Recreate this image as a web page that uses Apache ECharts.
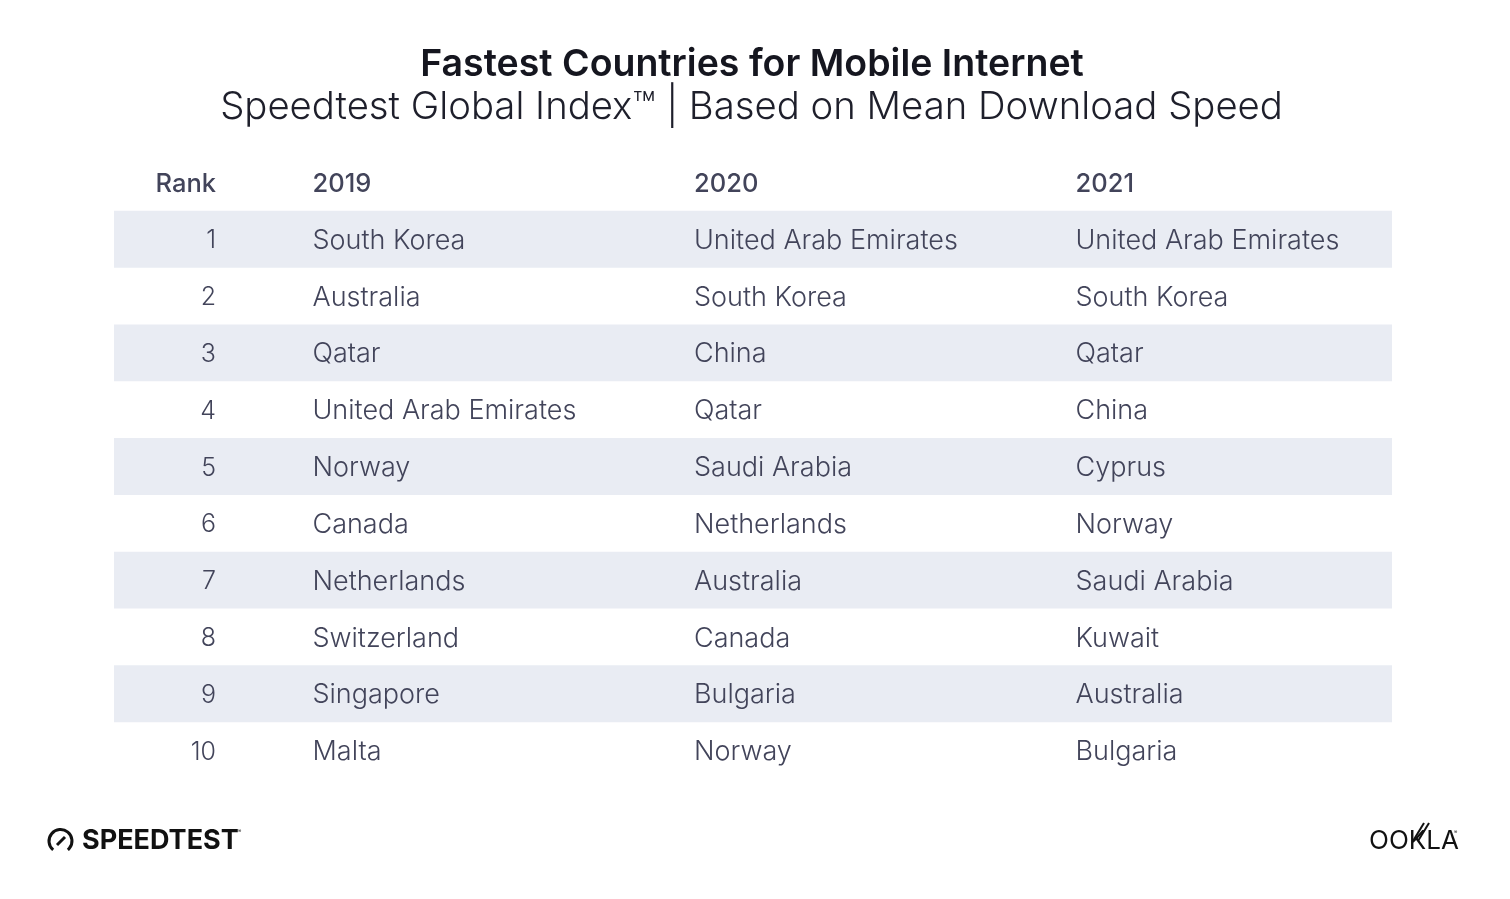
<!DOCTYPE html>
<html>
<head>
<meta charset="utf-8">
<title>Fastest Countries for Mobile Internet</title>
<style>
  html, body { margin: 0; padding: 0; background: #fff; }
  #main { width: 1510px; height: 899px; }
</style>
<script src="https://cdn.jsdelivr.net/npm/echarts@6/dist/echarts.min.js"></script>
</head>
<body>
<div id="main"></div>
<script>
const titleText = 'Fastest Countries for Mobile Internet';
const subtitleText = 'Speedtest Global Index™ | Based on Mean Download Speed';
const headers = ['Rank', '2019', '2020', '2021'];
const ranks = ['1', '2', '3', '4', '5', '6', '7', '8', '9', '10'];
const y2019 = ['South Korea', 'Australia', 'Qatar', 'United Arab Emirates', 'Norway', 'Canada', 'Netherlands', 'Switzerland', 'Singapore', 'Malta'];
const y2020 = ['United Arab Emirates', 'South Korea', 'China', 'Qatar', 'Saudi Arabia', 'Netherlands', 'Australia', 'Canada', 'Bulgaria', 'Norway'];
const y2021 = ['United Arab Emirates', 'South Korea', 'Qatar', 'China', 'Cyprus', 'Norway', 'Saudi Arabia', 'Kuwait', 'Australia', 'Bulgaria'];

const FONT = 'Inter';
const INK = '#42445a';
const rowNames = ['head'].concat(ranks);
// rank column is right aligned, the rest start at their own x
const xMin = 0.4784, xMax = 3.8283, rankX = 0.7457;

const cells = [];
headers.forEach((h, c) => cells.push([c === 0 ? rankX : c, 'head', h, 1]));
ranks.forEach((r, i) => {
  cells.push([rankX, r, r, 0]);
  cells.push([1, r, y2019[i], 0]);
  cells.push([2, r, y2020[i], 0]);
  cells.push([3, r, y2021[i], 0]);
});

const chart = echarts.init(document.getElementById('main'));
chart.setOption({
  animation: false,
  backgroundColor: '#fff',
  title: [
    { text: titleText, left: 747, top: 41, textAlign: 'center',
      textStyle: { fontFamily: FONT, fontSize: 37.5, fontWeight: 600, color: '#15161f' } },
    { text: subtitleText, left: 746.5, top: 83, textAlign: 'center',
      textStyle: { fontFamily: FONT, fontSize: 38.3, fontWeight: 300, color: '#1e1f2b' } }
  ],
  grid: { left: 114, right: 118, top: 154, height: 625 },
  xAxis: { type: 'value', min: xMin, max: xMax, show: false },
  yAxis: { type: 'category', data: rowNames, inverse: true, show: false },
  series: [
    {
      type: 'bar',
      z: 1,
      barWidth: '100%',
      silent: true,
      itemStyle: { color: '#e9ecf3' },
      data: rowNames.map((n, i) => (i % 2 === 1 ? xMax : null))
    },
    {
      type: 'custom',
      z: 3,
      silent: true,
      data: cells,
      encode: { x: 0 },
      renderItem: function (params, api) {
        const c = cells[params.dataIndex];
        const p = api.coord([c[0], rowNames.indexOf(c[1])]);
        const isRank = c[0] === rankX;
        return {
          type: 'text',
          x: p[0] - (isRank ? 0 : 0.5),
          y: p[1] + 1.5,
          style: {
            text: c[2],
            fontFamily: FONT,
            fontSize: c[3] ? 25.5 : (isRank ? 25 : 27),
            fontWeight: c[3] ? 500 : 300,
            fill: INK,
            align: isRank ? 'right' : 'left',
            verticalAlign: 'middle'
          }
        };
      }
    }
  ],
  graphic: [
    // speedtest gauge
    { type: 'arc', shape: { cx: 60.5, cy: 841, r: 11.5, startAngle: Math.PI * 0.72, endAngle: Math.PI * 0.28 },
      style: { stroke: '#111', lineWidth: 3, fill: null, lineCap: 'butt' } },
    { type: 'line', shape: { x1: 57, y1: 845, x2: 65, y2: 837 }, style: { stroke: '#111', lineWidth: 3 } },
    { type: 'text', x: 82, y: 841, style: { text: 'SPEEDTEST', fontFamily: FONT, fontSize: 27, fontWeight: 700, fill: '#111', verticalAlign: 'middle' } },
    { type: 'text', x: 238, y: 831, style: { text: '®', fontFamily: FONT, fontSize: 5, fill: '#111', verticalAlign: 'middle' } },
    // ookla wordmark
    { type: 'text', x: 1369, y: 841, style: { text: 'OOKLA', fontFamily: FONT, fontSize: 26, fontWeight: 400, fill: '#111', verticalAlign: 'middle' } },
    { type: 'line', shape: { x1: 1413, y1: 841, x2: 1424, y2: 823 }, style: { stroke: '#111', lineWidth: 2 } },
    { type: 'line', shape: { x1: 1418, y1: 841, x2: 1429, y2: 823 }, style: { stroke: '#111', lineWidth: 2 } },
    { type: 'text', x: 1454, y: 832, style: { text: '®', fontFamily: FONT, fontSize: 5, fill: '#111', verticalAlign: 'middle' } }
  ]
});
</script>
</body>
</html>
